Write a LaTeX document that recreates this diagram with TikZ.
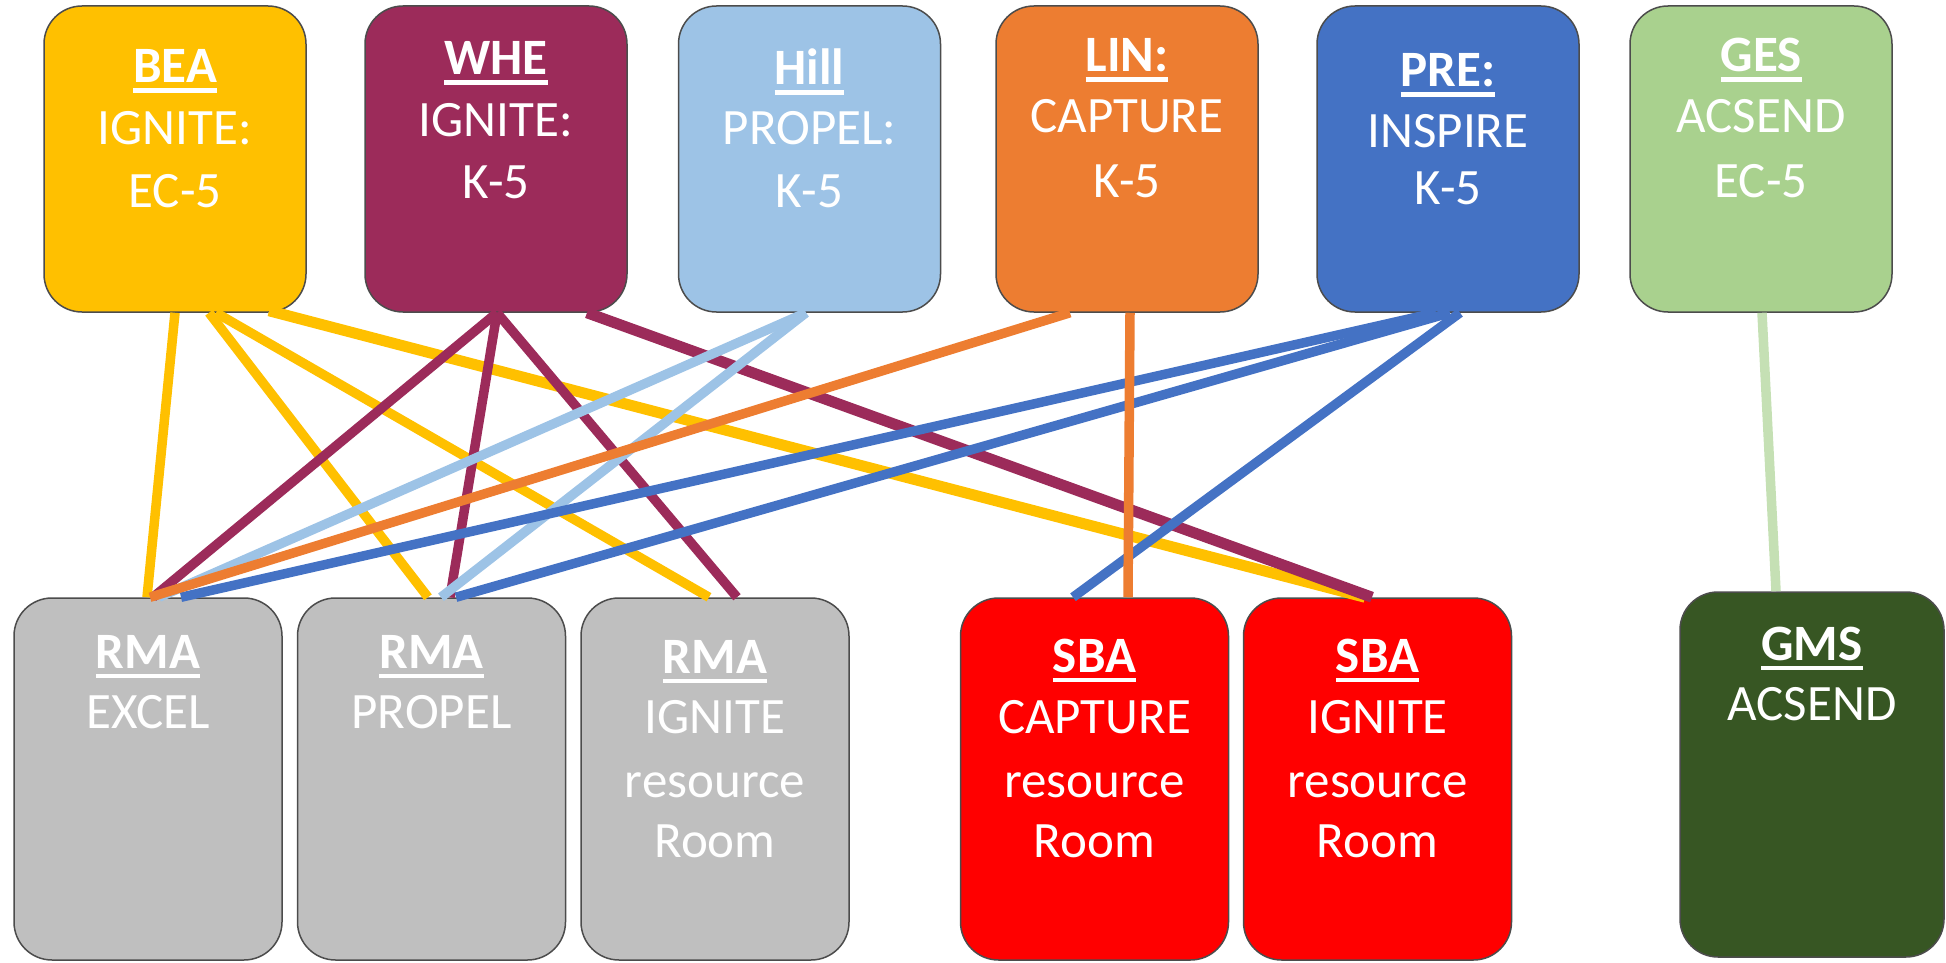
\documentclass[tikz,border=0pt]{standalone}
\usepackage{fontspec}
\setmainfont{Carlito}
\definecolor{cBEA}{HTML}{FFC000}
\definecolor{cWHE}{RGB}{156,43,90}
\definecolor{cHill}{HTML}{9DC3E6}
\definecolor{cLIN}{HTML}{ED7D31}
\definecolor{cPRE}{HTML}{4472C4}
\definecolor{cGES}{HTML}{A9D18E}
\definecolor{cGESline}{HTML}{C5E0B4}
\definecolor{cRMA}{HTML}{BFBFBF}
\definecolor{cSBA}{HTML}{FF0000}
\definecolor{cGMS}{HTML}{375623}
\newcommand\hdul[1]{\setbox0\hbox{#1}\rlap{\rule[-10pt]{\wd0}{4.5pt}}\box0}
\begin{document}
\begin{tikzpicture}[x=1pt,y=-1pt,
  box/.style={draw=black!70, line width=1.5pt, rounded corners=38pt, minimum width=262pt, minimum height=306pt, inner sep=0pt},
  lowbox/.style={box, minimum width=268pt, minimum height=362pt},
  txt/.style={anchor=base, text=white, font=\fontsize{51}{60}\selectfont, inner sep=0pt},
  hd/.style={txt, font=\fontsize{51}{60}\selectfont\bfseries},
  link/.style={line width=9.5pt},
  longlink/.style={line width=11pt}]
\useasboundingbox (0,0) rectangle (1946,963);

% top boxes
\node[box, fill=cBEA]  (bea)  at (175,159) {};
\node[box, fill=cWHE]  (whe)  at (496,159) {};
\node[box, fill=cHill] (hill) at (809.5,159) {};
\node[box, fill=cLIN]  (lin)  at (1127,159) {};
\node[box, fill=cPRE]  (pre)  at (1448,159) {};
\node[box, fill=cGES]  (ges)  at (1761,159) {};

% bottom boxes
\node[lowbox, fill=cRMA] (rma1) at (148,779) {};
\node[lowbox, fill=cRMA] (rma2) at (431.5,779) {};
\node[lowbox, fill=cRMA] (rma3) at (715,779) {};
\node[lowbox, fill=cSBA] (sba1) at (1094.5,779) {};
\node[lowbox, fill=cSBA] (sba2) at (1377.5,779) {};
\node[lowbox, fill=cGMS, minimum width=264pt, minimum height=365pt] (gms) at (1812,774.5) {};

% connectors
\draw[link, cBEA] ([xshift=0pt]bea.south) -- ([xshift=-1pt]rma1.north);
\draw[link, cBEA] ([xshift=34pt]bea.south) -- ([xshift=-3.5pt]rma2.north);
\draw[link, cBEA] ([xshift=41pt]bea.south) -- ([xshift=-6pt]rma3.north);
\draw[longlink, cBEA] ([xshift=94pt,yshift=2pt]bea.south) -- ([xshift=-12.5pt]sba2.north);

\draw[link, cWHE] ([xshift=1pt]whe.south) -- ([xshift=5pt]rma1.north);
\draw[link, cWHE] ([xshift=1pt]whe.south) -- ([xshift=18.5pt]rma2.north);
\draw[link, cWHE] ([xshift=1pt]whe.south) -- ([xshift=22pt]rma3.north);
\draw[longlink, cWHE] ([xshift=91pt]whe.south) -- ([xshift=-5.5pt]sba2.north);

\draw[link, cHill] ([xshift=-3.5pt]hill.south) -- ([xshift=11pt]rma1.north);
\draw[link, cHill] ([xshift=-3.5pt]hill.south) -- ([xshift=9.5pt]rma2.north);

\draw[link, cPRE] ([xshift=-12pt]pre.south) -- ([xshift=33pt]rma1.north);
\draw[link, cPRE] ([xshift=2pt]pre.south) -- ([xshift=24.5pt]rma2.north);
\draw[link, cPRE] ([xshift=12pt]pre.south) -- ([xshift=-21.5pt]sba1.north);

\draw[link, cLIN] ([xshift=-57pt]lin.south) -- ([xshift=2pt]rma1.north);
\draw[link, cLIN] ([xshift=3pt]lin.south) -- ([xshift=33.5pt]sba1.north);

\draw[link, cGESline] ([xshift=1pt]ges.south) -- ([xshift=-36pt]gms.north);

% top texts
\node[hd]  (beaA) at (175,83)  {\hdul{BEA}};
\node[txt] (beaB) at (175,145) {IGNITE:};
\node[txt] (beaC) at (175,207) {EC-5};

\node[hd]  (wheA) at (496,75)  {\hdul{WHE}};
\node[txt] (wheB) at (496,136) {IGNITE:};
\node[txt] (wheC) at (496,198) {K-5};

\node[hd]  (hillA) at (809.5,85)  {\hdul{Hill}};
\node[txt] (hillB) at (809.5,145) {PROPEL:};
\node[txt] (hillC) at (809.5,207) {K-5};

\node[hd]  (linA) at (1127,72)  {\hdul{LIN:}};
\node[txt] (linB) at (1127,133) {CAPTURE};
\node[txt] (linC) at (1127,197) {K-5};

\node[hd]  (preA) at (1448,87)  {\hdul{PRE:}};
\node[txt] (preB) at (1448,147) {INSPIRE};
\node[txt] (preC) at (1448,204) {K-5};

\node[hd]  (gesA) at (1761,72)  {\hdul{GES}};
\node[txt] (gesB) at (1761,133) {ACSEND};
\node[txt] (gesC) at (1761,197) {EC-5};

% bottom texts
\node[hd]  (rma1A) at (148,668) {\hdul{RMA}};
\node[txt] (rma1B) at (148,728) {EXCEL};

\node[hd]  (rma2A) at (431.5,668) {\hdul{RMA}};
\node[txt] (rma2B) at (431.5,728) {PROPEL};

\node[hd]  (rma3A) at (715,673) {\hdul{RMA}};
\node[txt] (rma3B) at (715,733) {IGNITE};
\node[txt] (rma3C) at (715,797) {resource};
\node[txt] (rma3D) at (715,857) {Room};

\node[hd]  (sba1A) at (1094.5,672) {\hdul{SBA}};
\node[txt] (sba1B) at (1094.5,733) {CAPTURE};
\node[txt] (sba1C) at (1094.5,797) {resource};
\node[txt] (sba1D) at (1094.5,857) {Room};

\node[hd]  (sba2A) at (1377.5,672) {\hdul{SBA}};
\node[txt] (sba2B) at (1377.5,733) {IGNITE};
\node[txt] (sba2C) at (1377.5,797) {resource};
\node[txt] (sba2D) at (1377.5,857) {Room};

\node[hd]  (gmsA) at (1812,660) {\hdul{GMS}};
\node[txt] (gmsB) at (1812,720) {ACSEND};
\end{tikzpicture}
\end{document}
